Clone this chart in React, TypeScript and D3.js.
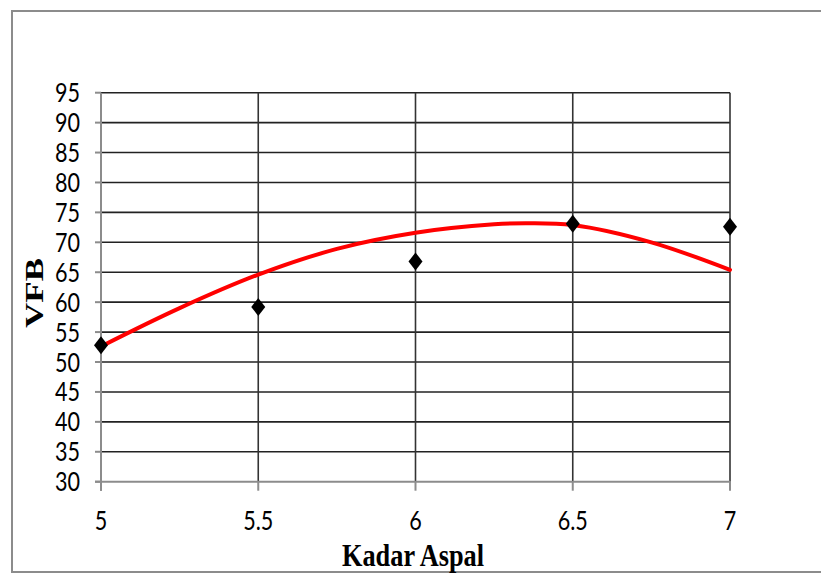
import React from "react";
import * as d3 from "d3";

// Asphalt content (%) and measured VFB (%)
const kadarAspal = [5, 5.5, 6, 6.5, 7];
const vfb = [52.8, 59.2, 66.8, 73.1, 72.6];

// Polynomial trend line, sampled along the x range
const trendX = [5, 5.25, 5.5, 5.75, 6, 6.25, 6.35, 6.5, 6.75, 7];
const trendY = [52.6, 59.0, 64.6, 68.9, 71.6, 73.0, 73.2, 72.9, 70.0, 65.4];

const yTicks = [30, 35, 40, 45, 50, 55, 60, 65, 70, 75, 80, 85, 90, 95];
const xTicks = [5, 5.5, 6, 6.5, 7];

const W = 821;
const H = 573;

export default function App() {
  const x = d3.scaleLinear().domain([5, 7]).range([101, 730]);
  const y = d3.scaleLinear().domain([30, 95]).range([481.7, 92.7]);

  const trend = d3
    .line<number>()
    .x((_, i) => x(trendX[i]))
    .y((d) => y(d))
    .curve(d3.curveCatmullRom.alpha(0.5));

  const diamond = (cx: number, cy: number) =>
    `M${cx},${cy - 9}L${cx + 7},${cy}L${cx},${cy + 9}L${cx - 7},${cy}Z`;

  const labelStyle = { fontFamily: "Lato, 'Open Sans', sans-serif", fontSize: 27, fill: "#000" };

  return (
    <svg
      width={W}
      height={H}
      style={{ position: "absolute", left: 0, top: 0, background: "#fff" }}
    >
      {/* outer frame */}
      <path d={`M${W + 2},11H12V572H${W + 2}`} fill="none" stroke="#8c8c8c" strokeWidth={2} />

      {/* horizontal gridlines */}
      {yTicks.slice(1).map((t) => (
        <line key={`h${t}`} x1={x(5)} x2={x(7)} y1={y(t)} y2={y(t)} stroke="#222" strokeWidth={1.6} />
      ))}
      {/* vertical gridlines */}
      {xTicks.slice(1).map((t) => (
        <line key={`v${t}`} x1={x(t)} x2={x(t)} y1={y(95)} y2={y(30)} stroke="#333" strokeWidth={1.6} />
      ))}

      {/* axes */}
      <line x1={x(5)} x2={x(5)} y1={y(95)} y2={y(30) + 9} stroke="#8c8c8c" strokeWidth={2} />
      <line x1={x(5) - 6} x2={x(7)} y1={y(30)} y2={y(30)} stroke="#8c8c8c" strokeWidth={2} />
      {yTicks.map((t) => (
        <line key={`yt${t}`} x1={x(5) - 6} x2={x(5)} y1={y(t)} y2={y(t)} stroke="#8c8c8c" strokeWidth={2} />
      ))}
      {xTicks.map((t) => (
        <line key={`xt${t}`} x1={x(t)} x2={x(t)} y1={y(30)} y2={y(30) + 9} stroke="#8c8c8c" strokeWidth={2} />
      ))}

      {/* tick labels */}
      {yTicks.map((t) => (
        <text
          key={`yl${t}`}
          transform={`translate(${x(5) - 21},${y(t) + 9.5}) scale(0.8,1)`}
          textAnchor="end"
          style={labelStyle}
        >
          {t}
        </text>
      ))}
      {xTicks.map((t) => (
        <text
          key={`xl${t}`}
          transform={`translate(${x(t)},${y(30) + 48.5}) scale(0.8,1)`}
          textAnchor="middle"
          style={labelStyle}
        >
          {t}
        </text>
      ))}

      {/* trend line */}
      <path d={trend(trendY) || ""} fill="none" stroke="#ff0000" strokeWidth={4} strokeLinecap="round" />

      {/* observations */}
      {kadarAspal.map((k, i) => (
        <path key={`p${k}`} d={diamond(x(k), y(vfb[i]))} fill="#000" />
      ))}

      {/* axis titles */}
      <text
        x={413}
        y={566}
        textAnchor="middle"
        textLength={142}
        lengthAdjust="spacingAndGlyphs"
        style={{ fontFamily: "'Liberation Serif', serif", fontWeight: "bold", fontSize: 32, fill: "#000" }}
      >
        Kadar Aspal
      </text>
      <text
        transform="translate(43,293) rotate(-90)"
        textAnchor="middle"
        textLength={70}
        lengthAdjust="spacingAndGlyphs"
        style={{ fontFamily: "'Liberation Serif', serif", fontWeight: "bold", fontSize: 26, fill: "#000" }}
      >
        VFB
      </text>
    </svg>
  );
}
